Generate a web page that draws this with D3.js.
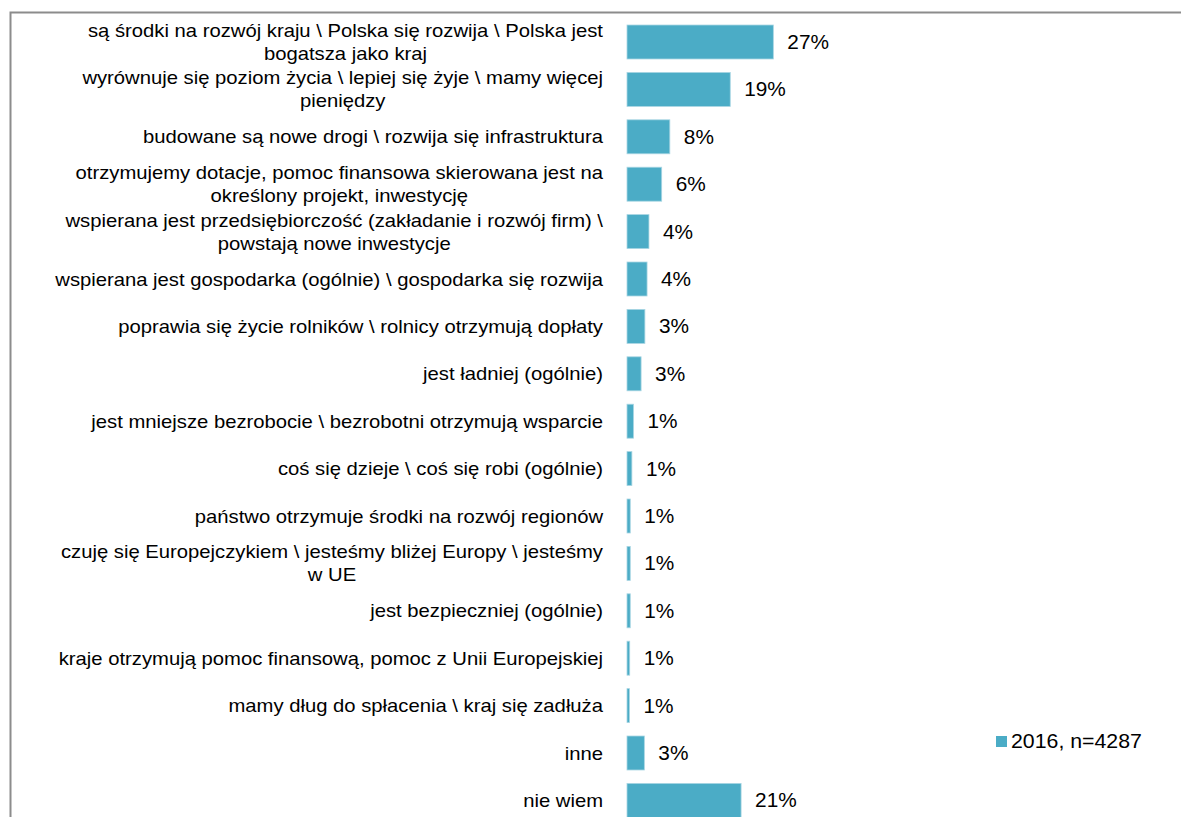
<!DOCTYPE html>
<html>
<head>
<meta charset="utf-8">
<script src="https://cdn.jsdelivr.net/npm/d3@7"></script>
<style>
  body { margin: 0; background: #fff; }
  svg { display: block; font-family: "Liberation Sans", Arial, sans-serif; }
</style>
</head>
<body>
<div id="chart"></div>
<script>
// categories (lines of each label)
const categories = [
  ["są środki na rozwój kraju \\ Polska się rozwija \\ Polska jest", "bogatsza jako kraj"],
  ["wyrównuje się poziom życia \\ lepiej się żyje \\ mamy więcej", "pieniędzy"],
  ["budowane są nowe drogi \\ rozwija się infrastruktura"],
  ["otrzymujemy dotacje, pomoc finansowa skierowana jest na", "określony projekt, inwestycję"],
  ["wspierana jest przedsiębiorczość (zakładanie i rozwój firm) \\", "powstają nowe inwestycje"],
  ["wspierana jest gospodarka (ogólnie) \\ gospodarka się rozwija"],
  ["poprawia się życie rolników \\ rolnicy otrzymują dopłaty"],
  ["jest ładniej (ogólnie)"],
  ["jest mniejsze bezrobocie \\ bezrobotni otrzymują wsparcie"],
  ["coś się dzieje \\ coś się robi (ogólnie)"],
  ["państwo otrzymuje środki na rozwój regionów"],
  ["czuję się Europejczykiem \\ jesteśmy bliżej Europy \\ jesteśmy", "w UE"],
  ["jest bezpieczniej (ogólnie)"],
  ["kraje otrzymują pomoc finansową, pomoc z Unii Europejskiej"],
  ["mamy dług do spłacenia \\ kraj się zadłuża"],
  ["inne"],
  ["nie wiem"]
]
// series values
const values = [27, 19.05, 7.9, 6.4, 4.05, 3.7, 3.3, 2.6, 1.2, 0.9, 0.6, 0.6, 0.6, 0.5, 0.45, 3.2, 21.05]
const valueLabels = ["27%","19%","8%","6%","4%","4%","3%","3%","1%","1%","1%","1%","1%","1%","1%","3%","21%"]
const seriesName = "2016, n=4287"

const W = 1181, H = 817
const barColor = "#4bacc6"

const svg = d3.select("#chart")
  .append("svg")
    .attr("width", W)
    .attr("height", H)

// frame (right and bottom edges run off the picture)
svg.append("rect")
  .attr("x", 10.5)
  .attr("y", 12.5)
  .attr("width", 1400)
  .attr("height", 1000)
  .attr("fill", "none")
  .attr("stroke", "#8c8c8c")
  .attr("stroke-width", 2)

const x = d3.scaleLinear().domain([0, 30]).range([627, 627 + 162.6])
const y = d3.scaleBand()
  .domain(d3.range(categories.length))
  .range([18.3, 18.3 + 17 * 47.4])
  .paddingInner(0.283)
  .paddingOuter(0.1415)

// bars
svg.selectAll("rect.bar")
  .data(values)
  .join("rect")
    .attr("class", "bar")
    .attr("x", x(0))
    .attr("y", (d, i) => y(i))
    .attr("width", d => x(d) - x(0))
    .attr("height", y.bandwidth())
    .attr("fill", barColor)
    .attr("stroke", "#a9d6e3")
    .attr("stroke-width", 0.8)

// value labels (source font runs a little wide)
svg.selectAll("text.val")
  .data(valueLabels)
  .join("text")
    .attr("class", "val")
    .attr("transform", (d, i) => "translate(" + (x(values[i]) + 14) + "," + (y(i) + y.bandwidth() / 2 + 7) + ") scale(1.04,1)")
    .attr("font-size", 20)
    .attr("fill", "#000")
    .text(d => d)

// category labels, second line centred under the first
const lineH = 23
const labelRight = 603
const sx = 1.095
svg.selectAll("g.cat")
  .data(categories)
  .join("g")
    .attr("class", "cat")
    .each(function(lines, i) {
      const cy = y(i) + y.bandwidth() / 2
      const top = cy - (lines.length - 1) * lineH / 2 + 6.5
      const g = d3.select(this)
        .attr("transform", "translate(" + labelRight + "," + top + ") scale(" + sx + ",1)")
      const first = g.append("text")
        .attr("text-anchor", "end")
        .attr("font-size", 18.5)
        .attr("fill", "#000")
        .text(lines[0])
      if (lines.length > 1) {
        const w = first.node().getComputedTextLength()
        g.append("text")
          .attr("x", -w / 2)
          .attr("y", lineH)
          .attr("text-anchor", "middle")
          .attr("font-size", 18.5)
          .attr("fill", "#000")
          .text(lines[1])
      }
    })

// legend
const legend = svg.append("g").attr("transform", "translate(996,736)")
legend.append("rect")
  .attr("width", 11)
  .attr("height", 11)
  .attr("fill", barColor)
legend.append("text")
  .attr("transform", "translate(15,11.5) scale(1.065,1)")
  .attr("font-size", 20)
  .attr("fill", "#000")
  .text(seriesName)
</script>
</body>
</html>
